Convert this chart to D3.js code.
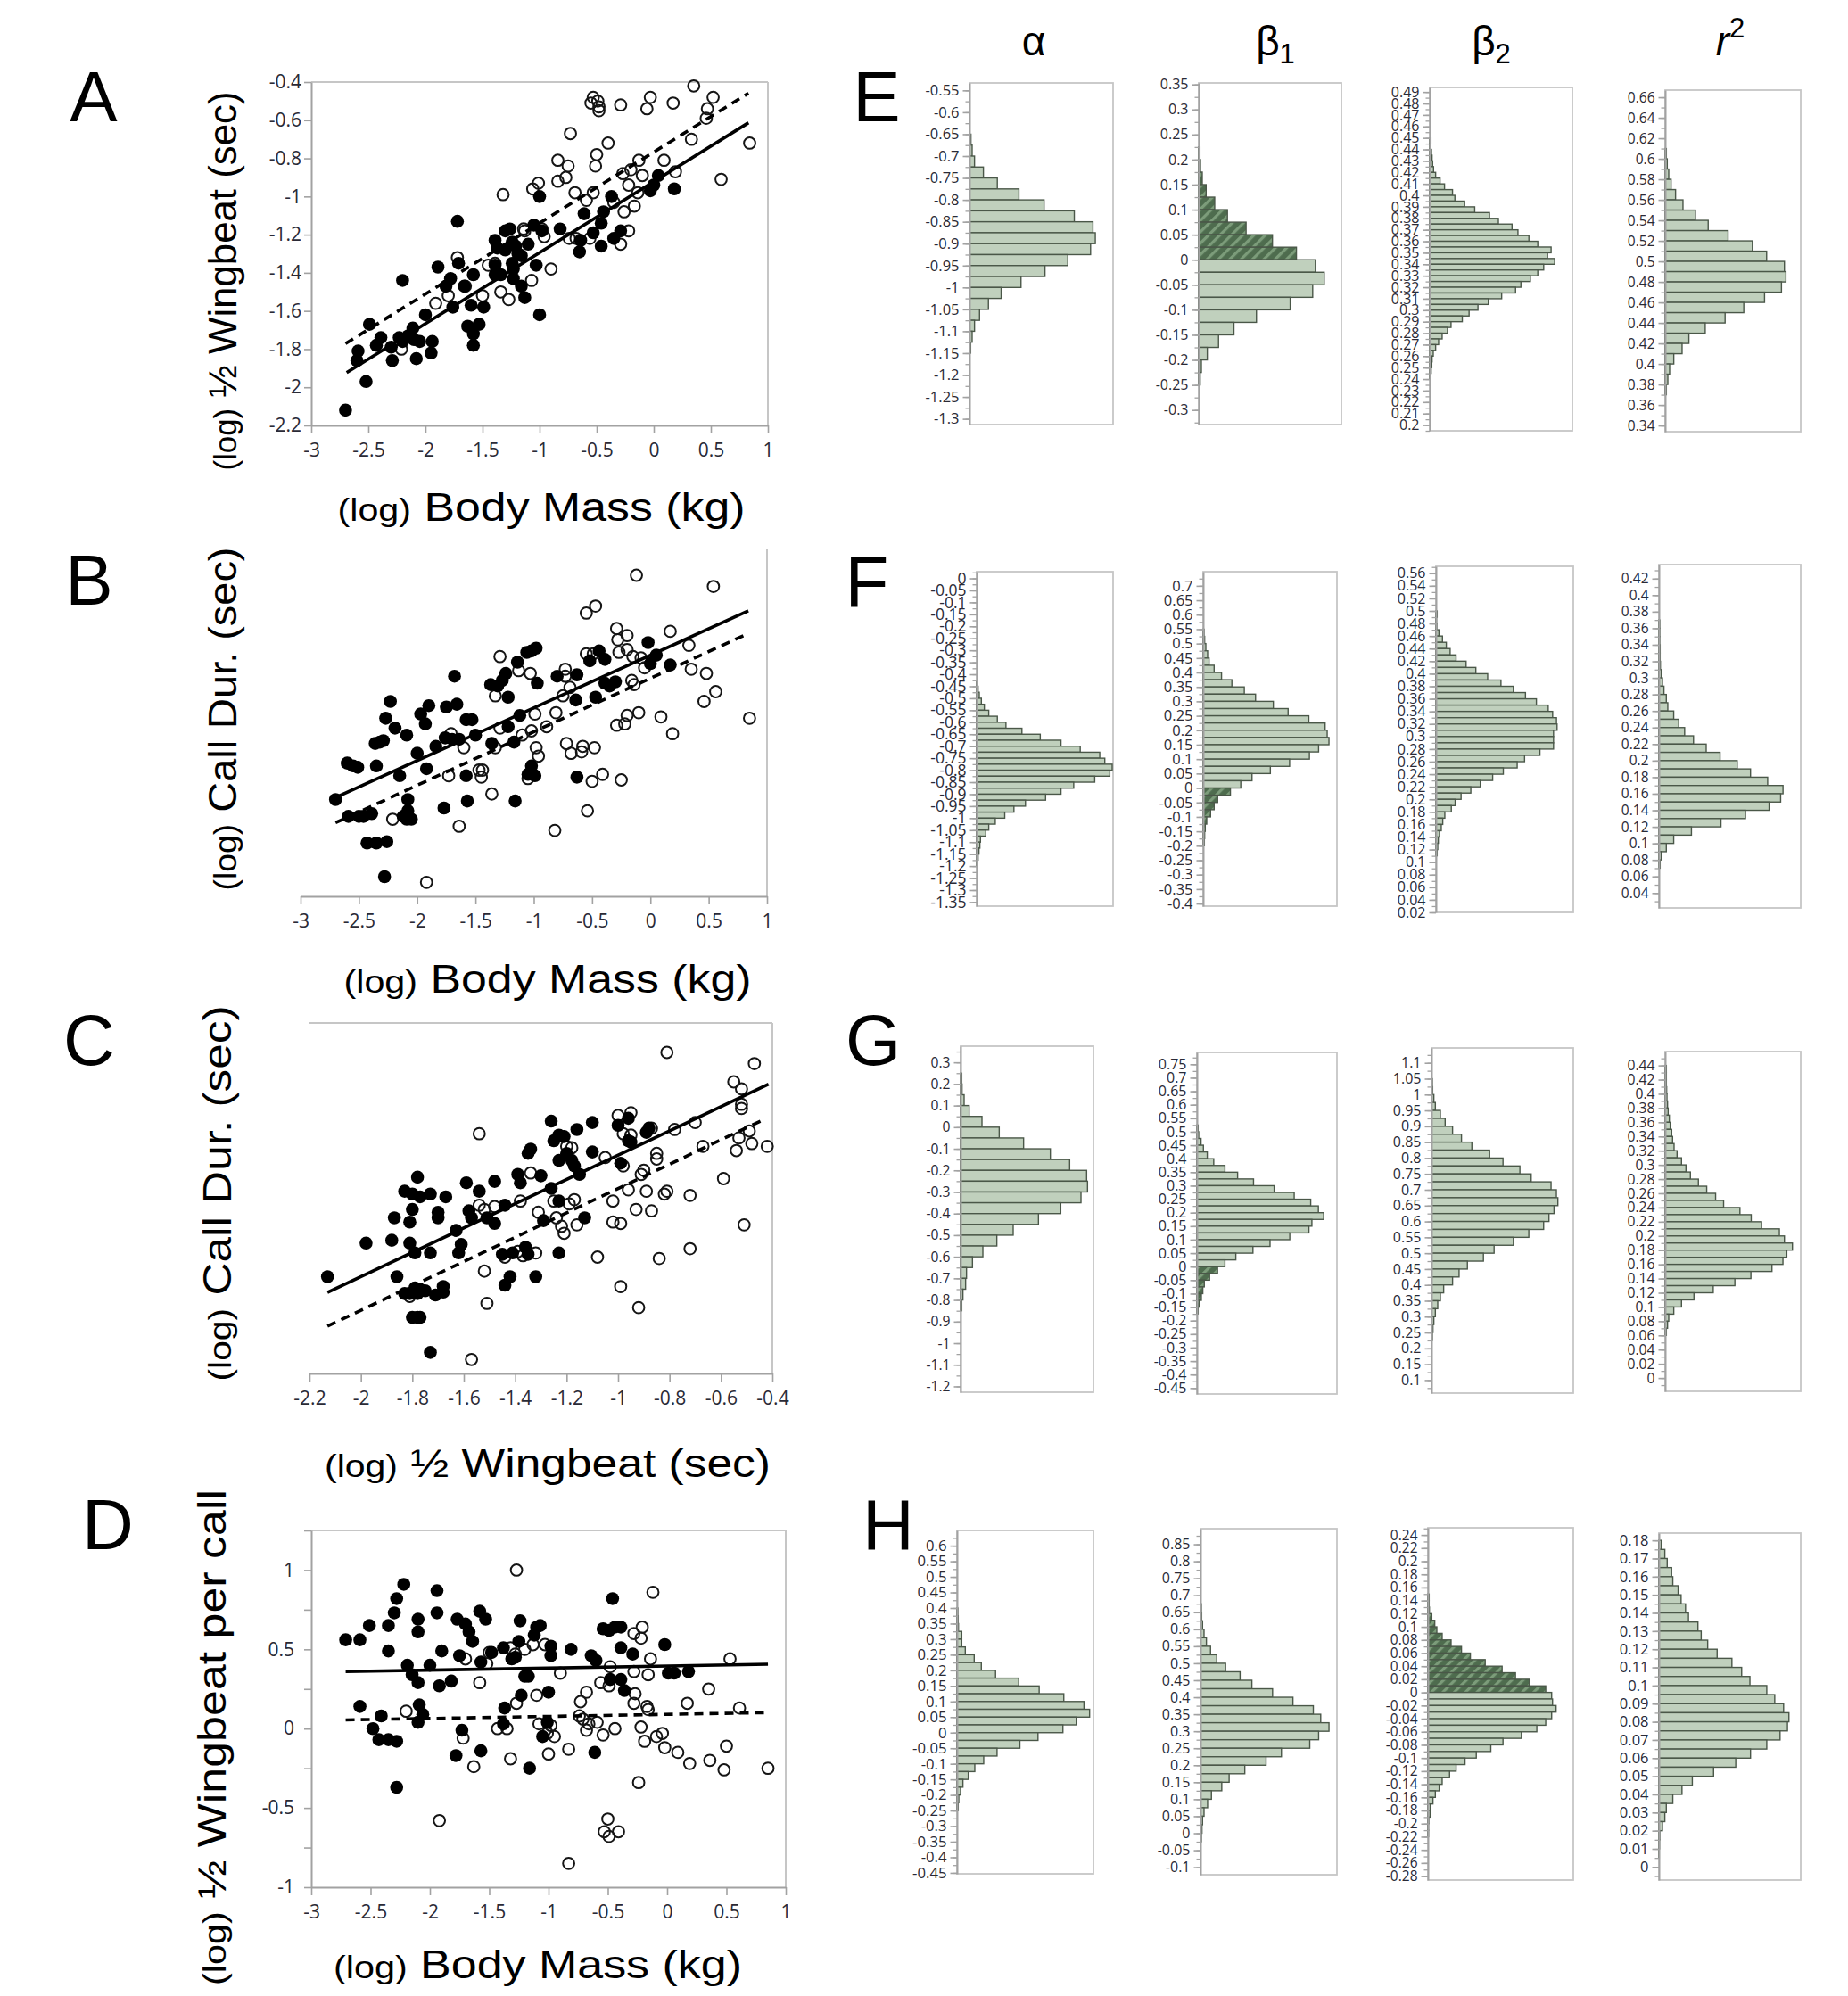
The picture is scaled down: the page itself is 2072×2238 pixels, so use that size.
<!DOCTYPE html>
<html><head><meta charset="utf-8">
<script src="https://cdn.jsdelivr.net/npm/d3@7"></script>
<style>body{margin:0;background:#fff}</style>
</head><body><svg id="c" width="2072" height="2238" xmlns="http://www.w3.org/2000/svg"></svg>
<script>
// ---------------- DATA: scatter panels (x, y) ----------------
const aOpen=[[-0.53,-0.48],[-0.55,-0.51],[-0.49,-0.50],[-0.48,-0.53],[-0.48,-0.55],[-0.29,-0.52],[-0.06,-0.54],[-0.03,-0.48],[0.17,-0.51],[0.35,-0.42],[0.52,-0.48],[0.47,-0.54],[0.46,-0.59],[0.33,-0.70],[0.84,-0.72],[-0.73,-0.67],[-0.40,-0.72],[-0.50,-0.78],[-0.51,-0.84],[-0.84,-0.81],[-0.75,-0.84],[-0.77,-0.90],[-0.84,-0.92],[-1.01,-0.93],[-1.06,-0.96],[-1.32,-0.99],[-0.69,-0.98],[-0.59,-1.02],[-0.53,-0.98],[-0.27,-0.88],[-0.20,-0.86],[-0.13,-0.81],[-0.10,-0.89],[-0.22,-0.94],[-0.14,-0.98],[-0.17,-1.05],[-0.26,-1.08],[-0.22,-1.18],[-0.29,-1.25],[0.09,-0.81],[0.19,-0.87],[0.59,-0.91],[-0.35,-1.03],[-0.56,-1.22],[-0.68,-1.22],[-0.74,-1.22],[-0.90,-1.38],[-1.07,-1.44],[-1.14,-1.17],[-1.13,-1.18],[-0.96,-1.21],[-0.98,-1.17],[-1.34,-1.50],[-1.27,-1.54],[-1.50,-1.52],[-1.45,-1.36],[-1.39,-1.35],[-1.65,-1.47],[-1.72,-1.32],[-1.80,-1.52],[-1.91,-1.56],[-2.21,-1.80]];
const aFilled=[[-2.70,-2.12],[-2.52,-1.97],[-2.59,-1.81],[-2.60,-1.86],[-2.49,-1.67],[-2.43,-1.78],[-2.39,-1.74],[-2.30,-1.79],[-2.29,-1.86],[-2.23,-1.74],[-2.20,-1.76],[-2.15,-1.73],[-2.11,-1.69],[-2.10,-1.75],[-2.08,-1.85],[-2.05,-1.76],[-1.94,-1.76],[-1.95,-1.82],[-2.00,-1.62],[-2.20,-1.44],[-1.89,-1.37],[-1.82,-1.47],[-1.78,-1.43],[-1.72,-1.13],[-1.71,-1.35],[-1.76,-1.58],[-1.66,-1.47],[-1.58,-1.41],[-1.60,-1.57],[-1.63,-1.68],[-1.58,-1.72],[-1.58,-1.78],[-1.53,-1.67],[-1.49,-1.58],[-1.39,-1.23],[-1.37,-1.27],[-1.30,-1.18],[-1.26,-1.17],[-1.24,-1.24],[-1.21,-1.26],[-1.24,-1.35],[-1.23,-1.38],[-1.16,-1.31],[-1.10,-1.25],[-1.16,-1.47],[-1.13,-1.53],[-1.03,-1.36],[-1.00,-1.62],[-1.00,-1.00],[-1.05,-1.15],[-0.98,-1.18],[-0.82,-1.17],[-0.61,-1.09],[-0.64,-1.23],[-0.65,-1.29],[-0.53,-1.19],[-0.46,-1.26],[-0.44,-1.08],[-0.46,-1.14],[-0.37,-1.00],[-0.35,-1.22],[-0.29,-1.18],[-0.03,-0.97],[0.04,-0.89],[0.18,-0.96],[0.00,-0.94],[-1.39,-1.41],[-1.34,-1.41],[-1.30,-1.28],[-1.23,-1.43],[-1.19,-1.30],[-1.39,-1.36]];
const bOpen=[[-0.12,0.04],[0.54,-0.04],[-0.55,-0.23],[-0.47,-0.18],[0.17,-0.36],[0.33,-0.46],[0.35,-0.63],[0.48,-0.66],[0.46,-0.86],[0.56,-0.79],[0.85,-0.98],[0.09,-0.97],[0.19,-1.09],[-0.10,-0.94],[-0.20,-0.96],[-0.29,-1.03],[-0.22,-1.02],[-0.29,-0.34],[-0.28,-0.42],[-0.20,-0.39],[-0.27,-0.51],[-0.20,-0.49],[-0.15,-0.54],[-0.08,-0.55],[-0.05,-0.62],[-0.16,-0.71],[-0.14,-0.74],[-0.55,-0.52],[-0.49,-0.52],[-0.73,-0.63],[-0.73,-0.68],[-0.69,-0.76],[-0.75,-0.82],[-0.81,-0.94],[-0.89,-1.04],[-0.99,-0.95],[-1.02,-1.07],[-0.98,-1.19],[-0.96,-1.25],[-1.05,-1.41],[-1.10,-1.10],[-1.29,-1.05],[-1.33,-1.19],[-1.29,-0.54],[-1.33,-0.82],[-1.13,-0.64],[-1.03,-0.66],[-1.44,-1.35],[-1.45,-1.40],[-1.36,-1.52],[-1.71,-1.09],[-1.73,-1.39],[-1.60,-1.19],[-1.64,-1.75],[-2.21,-1.70],[-1.92,-2.15],[-0.82,-1.78],[-0.54,-1.64],[-0.50,-1.43],[-0.41,-1.38],[-0.25,-1.42],[-0.48,-1.19],[-0.58,-1.18],[-0.59,-1.22],[-0.68,-1.23],[-0.72,-1.16],[-1.47,-1.35]];
const bFilled=[[-2.70,-1.56],[-2.59,-1.68],[-2.50,-1.68],[-2.46,-1.68],[-2.39,-1.66],[-2.43,-1.87],[-2.35,-1.87],[-2.26,-1.86],[-2.28,-2.11],[-2.60,-1.30],[-2.55,-1.32],[-2.51,-1.33],[-2.35,-1.32],[-2.15,-1.39],[-2.27,-0.98],[-2.23,-0.86],[-2.19,-1.05],[-2.09,-1.10],[-2.36,-1.16],[-2.32,-1.15],[-2.29,-1.14],[-2.00,-1.23],[-1.92,-1.34],[-1.97,-0.95],[-1.93,-1.02],[-1.90,-0.89],[-1.84,-1.18],[-1.75,-0.90],[-1.66,-0.88],[-1.68,-0.68],[-1.76,-1.12],[-1.77,-1.62],[-1.70,-1.13],[-1.64,-1.13],[-1.58,-0.99],[-1.53,-0.99],[-1.50,-1.10],[-1.58,-1.39],[-1.57,-1.57],[-1.37,-0.74],[-1.31,-0.75],[-1.27,-0.71],[-1.24,-0.66],[-1.22,-0.83],[-1.36,-1.16],[-1.22,-1.04],[-1.17,-1.15],[-1.12,-0.96],[-1.14,-0.58],[-1.06,-0.51],[-1.02,-0.50],[-0.98,-0.48],[-0.97,-0.73],[-1.02,-1.32],[-0.99,-1.39],[-1.05,-1.38],[-1.16,-1.57],[-0.80,-0.68],[-0.63,-0.67],[-0.64,-0.85],[-0.52,-0.57],[-0.39,-0.56],[-0.39,-0.73],[-0.44,-0.50],[-0.47,-0.83],[-0.30,-0.72],[-0.35,-0.75],[-0.02,-0.44],[0.05,-0.53],[0.00,-0.59],[0.17,-0.60],[-0.63,-1.40],[-2.12,-1.68],[-2.09,-1.70],[-2.05,-1.70],[-2.08,-1.56],[-2.08,-1.64]];
const cOpen=[[-0.81,0.04],[-0.47,-0.04],[-0.55,-0.17],[-0.52,-0.22],[-0.52,-0.33],[-0.52,-0.36],[-0.70,-0.46],[-0.78,-0.51],[-0.87,-0.50],[-0.95,-0.39],[-1.00,-0.41],[-0.98,-0.54],[-0.95,-0.55],[-0.53,-0.57],[-0.49,-0.52],[-0.48,-0.61],[-0.42,-0.63],[-0.54,-0.66],[-0.67,-0.63],[-0.85,-0.68],[-0.85,-0.72],[-1.05,-0.71],[-0.90,-0.80],[-0.91,-0.83],[-0.98,-0.77],[-0.59,-0.86],[-0.72,-0.98],[-0.81,-0.95],[-0.82,-0.97],[-0.87,-1.09],[-0.89,-0.95],[-0.93,-1.08],[-0.96,-0.94],[-1.02,-1.02],[-1.02,-1.17],[-0.99,-1.18],[-0.51,-1.19],[-0.72,-1.36],[-0.84,-1.43],[-1.08,-1.42],[-0.99,-1.63],[-0.92,-1.78],[-1.54,-0.54],[-1.54,-1.05],[-1.52,-1.08],[-1.48,-1.06],[-1.38,-1.02],[-1.34,-0.82],[-1.31,-1.10],[-1.25,-1.02],[-1.24,-1.14],[-1.22,-1.20],[-1.21,-1.25],[-1.19,-1.04],[-1.17,-1.01],[-1.16,-1.19],[-1.44,-1.42],[-1.39,-1.38],[-1.37,-1.41],[-1.32,-1.39],[-1.52,-1.52],[-1.51,-1.75],[-1.57,-2.15],[-1.81,-1.70],[-1.20,-0.63],[-1.18,-0.64]];
const cFilled=[[-2.13,-1.56],[-1.98,-1.32],[-1.87,-1.14],[-1.88,-1.30],[-1.86,-1.56],[-1.83,-0.95],[-1.80,-0.97],[-1.80,-1.08],[-1.78,-0.85],[-1.81,-1.17],[-1.81,-1.32],[-1.79,-1.39],[-1.73,-1.39],[-1.77,-0.99],[-1.73,-0.97],[-1.70,-1.10],[-1.70,-1.14],[-1.67,-0.99],[-1.83,-1.68],[-1.81,-1.68],[-1.78,-1.68],[-1.79,-1.64],[-1.77,-1.65],[-1.75,-1.66],[-1.71,-1.69],[-1.68,-1.67],[-1.68,-1.63],[-1.80,-1.85],[-1.78,-1.85],[-1.77,-1.85],[-1.73,-2.10],[-1.63,-1.23],[-1.61,-1.33],[-1.62,-1.39],[-1.59,-0.89],[-1.58,-1.09],[-1.57,-1.14],[-1.54,-0.95],[-1.51,-1.14],[-1.48,-0.88],[-1.48,-1.18],[-1.44,-1.05],[-1.45,-1.40],[-1.41,-1.39],[-1.44,-1.62],[-1.42,-1.56],[-1.39,-0.83],[-1.38,-0.89],[-1.35,-0.68],[-1.34,-0.65],[-1.36,-1.35],[-1.35,-1.40],[-1.30,-0.84],[-1.32,-1.56],[-1.29,-1.16],[-1.26,-0.93],[-1.26,-0.45],[-1.25,-0.59],[-1.23,-0.55],[-1.21,-0.56],[-1.20,-0.68],[-1.23,-0.73],[-1.23,-1.02],[-1.23,-1.39],[-1.18,-0.73],[-1.17,-0.77],[-1.16,-0.51],[-1.15,-0.83],[-1.13,-1.14],[-1.10,-0.46],[-1.10,-0.67],[-1.00,-0.48],[-0.96,-0.43],[-0.99,-0.75],[-0.96,-0.59],[-0.95,-0.60],[-0.89,-0.53],[-0.88,-0.50]];
const dOpen=[[-1.27,1.00],[-0.12,0.86],[-0.21,0.64],[-0.28,0.60],[-0.22,0.57],[0.53,0.44],[-0.14,0.44],[-0.28,0.36],[-0.16,0.34],[0.35,0.25],[0.17,0.16],[0.61,0.13],[-0.17,0.14],[-0.16,0.12],[-0.27,0.22],[-0.28,0.16],[-0.48,0.39],[-0.56,0.29],[-0.49,0.27],[-0.68,0.23],[-0.73,0.17],[-0.74,0.08],[-0.71,0.06],[-0.68,-0.01],[-0.59,0.04],[-0.54,-0.04],[-0.22,0.01],[-0.19,-0.08],[-0.09,-0.05],[-0.04,-0.03],[-0.02,-0.12],[0.09,-0.15],[0.19,-0.22],[0.36,-0.20],[0.48,-0.26],[0.50,-0.11],[0.85,-0.25],[-0.24,-0.34],[-0.53,-0.65],[-0.49,-0.68],[-0.41,-0.65],[-0.50,-0.57],[-0.83,-0.13],[-0.90,0.35],[-0.83,-0.85],[-1.00,-0.16],[-0.95,-0.05],[-1.01,-0.03],[-0.98,0.02],[-1.10,0.21],[-1.08,0.03],[-1.13,0.53],[-1.03,0.53],[-1.20,0.50],[-1.32,0.51],[-1.28,0.47],[-1.27,0.16],[-1.32,-0.19],[-1.35,0.00],[-1.43,0.00],[-1.50,0.48],[-1.52,0.41],[-1.58,0.29],[-1.63,-0.24],[-1.72,-0.06],[-1.70,0.44],[-2.20,0.11],[-1.92,-0.58],[-0.66,0.03],[-0.44,0.00]];
const dFilled=[[-2.71,0.56],[-2.59,0.56],[-2.51,0.65],[-2.59,0.14],[-2.48,0.00],[-2.43,-0.07],[-2.41,0.08],[-2.35,-0.07],[-2.28,-0.08],[-2.35,0.49],[-2.35,0.65],[-2.30,0.73],[-2.28,0.82],[-2.22,0.91],[-2.28,-0.37],[-2.19,0.40],[-2.15,0.34],[-2.10,0.69],[-2.10,0.61],[-2.10,0.29],[-2.09,0.15],[-2.10,0.04],[-2.06,0.09],[-2.00,0.40],[-1.94,0.87],[-1.94,0.73],[-1.90,0.49],[-1.92,0.27],[-1.82,0.30],[-1.77,0.69],[-1.75,0.46],[-1.70,0.66],[-1.67,0.61],[-1.64,0.55],[-1.73,-0.01],[-1.78,-0.17],[-1.58,0.74],[-1.53,0.69],[-1.57,-0.14],[-1.57,0.42],[-1.48,0.48],[-1.38,0.51],[-1.37,0.13],[-1.38,0.03],[-1.31,0.44],[-1.28,0.45],[-1.24,0.68],[-1.25,0.55],[-1.23,0.21],[-1.20,0.33],[-1.17,0.33],[-1.16,-0.25],[-1.12,0.59],[-1.10,0.64],[-1.07,0.65],[-0.98,0.52],[-0.98,0.46],[-1.00,0.23],[-1.01,0.04],[-1.05,-0.05],[-0.81,0.50],[-0.64,0.46],[-0.60,0.43],[-0.61,-0.15],[-0.54,0.63],[-0.49,0.62],[-0.46,0.82],[-0.44,0.64],[-0.39,0.64],[-0.39,0.51],[-0.39,0.31],[-0.36,0.24],[-0.48,0.31],[-0.29,0.47],[-0.02,0.53],[0.01,0.35],[0.06,0.35],[0.18,0.36]];
// regression lines: y = a + b*x over [x1, x2]
const aLines=[{a:-0.922,b:0.372,x1:-2.69,x2:0.83,dash:false},{a:-0.767,b:0.372,x1:-2.70,x2:0.83,dash:true}];
const bLines=[{a:-0.530,b:0.376,x1:-2.72,x2:0.84,dash:false},{a:-0.695,b:0.3815,x1:-2.70,x2:0.84,dash:true}];
const cLines=[{a:0.173,b:0.866,x1:-2.13,x2:-0.415,dash:false},{a:-0.063,b:0.868,x1:-2.13,x2:-0.43,dash:true}];
const dLines=[{a:0.395,b:0.0129,x1:-2.71,x2:0.85,dash:false},{a:0.090,b:0.0129,x1:-2.71,x2:0.85,dash:true}];
// scatter tick values
const xTicksMass=[-3,-2.5,-2,-1.5,-1,-0.5,0,0.5,1];
const xTicksWing=[-2.2,-2,-1.8,-1.6,-1.4,-1.2,-1,-0.8,-0.6,-0.4];
const yTicksA=[-2.2,-2,-1.8,-1.6,-1.4,-1.2,-1,-0.8,-0.6,-0.4];
const yTicksCall=[-2.25,-2,-1.75,-1.5,-1.25,-1,-0.75,-0.5,-0.25,0,0.25];
const yLabelsCall=[-2,-1.5,-1,-0.5,0];
const yTicksD=[-1,-0.75,-0.5,-0.25,0,0.25,0.5,0.75,1,1.25];
const yLabelsD=[-1,-0.5,0,0.5,1];

// ---------------- DATA: bootstrap histograms (bin start from top, bin width, relative counts) ----------------
const hist_E_alpha={start:-0.65,step:0.025,hi:null,counts:[5,9,17,47,94,167,252,354,417,425,409,332,255,174,107,64,34,17,9,4]};
const hist_E_beta1={start:0.225,step:0.025,hi:'pos',counts:[4,6,12,25,54,97,160,249,330,394,424,385,309,195,119,67,29,9,5]};
const hist_E_beta2={start:0.45,step:0.005,hi:null,counts:[4,3,6,8,10,13,20,35,50,77,85,118,152,202,232,278,298,335,365,410,398,422,385,365,340,308,290,243,198,163,133,110,72,60,42,30,20,12,8,7,5,3]};
const hist_E_r2={start:0.61,step:0.01,hi:null,counts:[4,7,12,20,35,60,102,145,212,294,342,402,407,392,335,265,202,135,80,57,29,15,9,4]};
const hist_F_alpha={start:-0.425,step:0.025,hi:null,counts:[3,5,9,16,26,41,70,99,153,215,285,350,416,433,458,450,399,328,285,233,165,126,95,63,41,31,13,11,8,5,3]};
const hist_F_beta1={start:0.55,step:0.025,hi:'neg',counts:[3,5,9,15,20,37,62,97,139,177,237,287,357,412,419,425,390,359,292,227,165,127,92,49,37,25,12,7,5,4]};
const hist_F_beta2={start:0.5,step:0.01,hi:null,counts:[4,2,3,10,22,35,48,68,102,135,175,220,262,303,340,380,395,408,410,398,398,398,352,300,275,228,192,150,118,85,65,52,30,23,18,12,8,6,4]};
const hist_F_r2={start:0.37,step:0.01,hi:null,counts:[3,3,3,4,4,5,8,12,17,25,30,50,67,87,117,160,207,265,310,368,420,412,373,293,210,110,50,25,8,4]};
const hist_G_alpha={start:0.25,step:0.05,hi:null,counts:[4,5,12,29,72,130,212,302,367,424,427,405,337,262,177,122,75,40,20,17,8,4]};
const hist_G_beta1={start:0.525,step:0.025,hi:'neg',counts:[4,6,14,22,35,57,95,138,192,262,330,386,412,430,390,380,315,248,190,132,95,70,43,25,20,15,7,4]};
const hist_G_beta2={start:1.05,step:0.025,hi:null,counts:[3,4,8,13,30,46,71,101,136,196,241,298,336,403,421,426,413,396,378,328,276,211,175,121,93,71,41,30,21,13,8,5,3]};
const hist_G_r2={start:0.44,step:0.01,hi:null,counts:[4,4,4,5,6,8,10,14,17,22,25,30,40,55,70,85,112,140,170,197,252,290,325,385,402,429,410,397,360,289,235,162,97,55,29,12,8,4]};
const hist_H_alpha={start:0.4,step:0.025,hi:null,counts:[3,4,5,16,16,28,58,82,130,208,277,360,428,447,402,357,273,212,135,90,60,38,20,12,6,4]};
const hist_H_beta1={start:0.675,step:0.025,hi:null,counts:[3,4,7,12,20,34,55,85,134,174,244,313,382,407,435,400,370,274,222,150,97,72,37,24,12,7,5,3]};
const hist_H_beta2={start:0.15,step:0.01,hi:'pos',counts:[4,4,5,13,23,30,48,78,113,143,193,250,295,342,397,417,420,432,417,397,367,315,253,212,163,125,95,73,48,38,25,17,8,7,3,2,2]};
const hist_H_r2={start:0.18,step:0.005,hi:null,counts:[8,20,28,43,47,65,75,90,100,132,143,165,197,247,280,308,365,392,422,440,435,410,365,310,260,185,113,78,47,25,20,12,3,2,1]};
// histogram axis labels: [top label, bottom label, label step]
const ticks_E=[[-0.55,-1.3,0.05],[0.35,-0.3,0.05],[0.49,0.2,0.01],[0.66,0.34,0.02]];
const ticks_F=[[0,-1.35,0.05],[0.7,-0.4,0.05],[0.56,0.02,0.02],[0.42,0.04,0.02]];
const ticks_G=[[0.3,-1.2,0.1],[0.75,-0.45,0.05],[1.1,0.1,0.05],[0.44,0,0.02]];
const ticks_H=[[0.6,-0.45,0.05],[0.85,-0.1,0.05],[0.24,-0.28,0.02],[0.18,0,0.01]];
const columnHeads=['α','β1','β2','r2'];
const rowLetters=['E','F','G','H'];

// ---------------- RENDER ----------------
const svg=d3.select('#c');
const AXIS='#a2a2a2', FRAME='#c6c6c6', TXT='#2a2a36';
const TICKFONT="'Open Sans','Noto Sans',sans-serif", LABFONT="'Liberation Sans',Arial,sans-serif";
const fmt=v=>String(Math.round(v*1000)/1000);
const near=(a,b)=>Math.abs(a-b)<1e-6;

const defs=svg.append('defs');
const pat=defs.append('pattern').attr('id','hatch').attr('patternUnits','userSpaceOnUse')
  .attr('width',9).attr('height',9).attr('patternTransform','rotate(45)');
pat.append('rect').attr('width',9).attr('height',9).attr('fill','#4e6c4e');
pat.append('rect').attr('x',0).attr('width',3.2).attr('height',9).attr('fill','#7c9c7a');

function styleAxis(g,fs){
  g.attr('font-family',TICKFONT).attr('font-size',fs);
  g.select('.domain').attr('stroke',AXIS).attr('stroke-width',2);
  g.selectAll('.tick line').attr('stroke',AXIS).attr('stroke-width',1.6);
  g.selectAll('.tick text').attr('fill',TXT);
}

function title(parent,xy,rot,len,main){
  const t=parent.append('text').attr('text-anchor','middle').attr('font-family',LABFONT).attr('fill','#000')
    .attr('transform',`translate(${xy[0]},${xy[1]})`+(rot?' rotate(-90)':''))
    .attr('textLength',len).attr('lengthAdjust','spacingAndGlyphs');
  t.append('tspan').attr('font-size',35).text('(log)');
  t.append('tspan').attr('font-size',44).text(' '+main);
}

function scatterPanel(P,filled,open,lines){
  const x=d3.scaleLinear().domain(P.xd).range([P.l,P.r]);
  const y=d3.scaleLinear().domain(P.yd).range([P.b,P.t]);
  const g=svg.append('g');
  g.append('line').attr('x1',P.r).attr('x2',P.r).attr('y1',P.rt).attr('y2',P.b).attr('stroke',FRAME).attr('stroke-width',2);
  if(P.top) g.append('line').attr('x1',P.l).attr('x2',P.r).attr('y1',P.t).attr('y2',P.t).attr('stroke',FRAME).attr('stroke-width',2);
  const xa=g.append('g').attr('transform',`translate(0,${P.b})`)
    .call(d3.axisBottom(x).tickValues(P.xt).tickSize(9).tickSizeOuter(0).tickPadding(11).tickFormat(fmt));
  styleAxis(xa,21);
  const ya=g.append('g').attr('transform',`translate(${P.l},0)`)
    .call(d3.axisLeft(y).tickValues(P.yt).tickSize(8).tickSizeOuter(0).tickPadding(P.pad)
      .tickFormat(v=>P.yl.some(u=>near(u,v))?fmt(v):''));
  styleAxis(ya,21);
  if(P.clip){
    defs.append('clipPath').attr('id',P.clip.id).append('rect').attr('x',P.clip.x).attr('y',0).attr('width',3000).attr('height',3000);
    ya.attr('clip-path',`url(#${P.clip.id})`);
  }
  g.append('g').selectAll('circle').data(open).join('circle')
    .attr('cx',d=>x(d[0])).attr('cy',d=>y(d[1])).attr('r',6.4)
    .attr('fill','none').attr('stroke','#151515').attr('stroke-width',2);
  g.append('g').selectAll('circle').data(filled).join('circle')
    .attr('cx',d=>x(d[0])).attr('cy',d=>y(d[1])).attr('r',7.3).attr('fill','#000');
  g.append('g').selectAll('line').data(lines).join('line')
    .attr('x1',d=>x(d.x1)).attr('x2',d=>x(d.x2))
    .attr('y1',d=>y(d.a+d.b*d.x1)).attr('y2',d=>y(d.a+d.b*d.x2))
    .attr('stroke','#000').attr('stroke-width',3.6)
    .attr('stroke-dasharray',d=>d.dash?'10,7':null);
  title(svg,P.xlab,false,P.xlen,P.xtitle);
  title(svg,P.ylab,true,P.ylen,P.ytitle);
  svg.append('text').attr('x',P.letter[0]).attr('y',P.letter[1]).attr('text-anchor','middle')
    .attr('font-family',LABFONT).attr('font-size',80).attr('fill','#000').text(P.name);
}

scatterPanel({name:'A',l:349,r:861,t:92,b:477,rt:92,top:true,xd:[-3,1],yd:[-2.2,-0.4],xt:xTicksMass,yt:yTicksA,yl:yTicksA,pad:3,
  xlab:[607,584],xlen:457,xtitle:'Body Mass (kg)',ylab:[265,315],ylen:425,ytitle:'½ Wingbeat (sec)',letter:[105,136]},aFilled,aOpen,aLines);
scatterPanel({name:'B',l:337,r:860,t:612,b:1005,rt:616,top:false,xd:[-3,1],yd:[-2.25,0.25],xt:xTicksMass,yt:yTicksCall,yl:yLabelsCall,pad:11,
  clip:{id:'clipB',x:293},xlab:[614,1113],xlen:457,xtitle:'Body Mass (kg)',ylab:[265,806],ylen:385,ytitle:'Call Dur. (sec)',letter:[100,678]},bFilled,bOpen,bLines);
scatterPanel({name:'C',l:347,r:866,t:1147,b:1540,rt:1147,top:true,xd:[-2.2,-0.4],yd:[-2.25,0.25],xt:xTicksWing,yt:yTicksCall,yl:yLabelsCall,pad:11,
  clip:{id:'clipC',x:303},xlab:[614,1656],xlen:500,xtitle:'½ Wingbeat (sec)',ylab:[259,1338],ylen:421,ytitle:'Call Dur. (sec)',letter:[100,1194]},cFilled,cOpen,cLines);
scatterPanel({name:'D',l:349,r:881,t:1716,b:2116,rt:1716,top:true,xd:[-3,1],yd:[-1,1.25],xt:xTicksMass,yt:yTicksD,yl:yLabelsD,pad:11,
  xlab:[603,2218],xlen:458,xtitle:'Body Mass (kg)',ylab:[253,1948],ylen:556,ytitle:'½ Wingbeat per call',letter:[121,1737]},dFilled,dOpen,dLines);

// histogram layouts
const HL=[
 [{l:1087,r:1248,t:93,b:476,yd:[-1.313,-0.533],xmax:485,fs:16.5},{l:1344,r:1504,t:93,b:476,yd:[-0.329,0.353],xmax:482,fs:16},
  {l:1603,r:1763,t:98,b:483,yd:[0.195,0.494],xmax:482,fs:16},{l:1867,r:2019,t:101,b:484,yd:[0.334,0.667],xmax:457,fs:15.5}],
 [{l:1095,r:1248,t:641,b:1016,yd:[-1.367,0.028],xmax:461,fs:17.5},{l:1349,r:1499,t:641,b:1016,yd:[-0.409,0.749],xmax:452,fs:16.5},
  {l:1610,r:1764,t:635,b:1023,yd:[0.02,0.571],xmax:465,fs:16},{l:1860,r:2019,t:633,b:1018,yd:[0.022,0.437],xmax:480,fs:15.5}],
 [{l:1077,r:1226,t:1173,b:1561,yd:[-1.227,0.375],xmax:447,fs:15.7},{l:1342,r:1499,t:1180,b:1563,yd:[-0.472,0.794],xmax:475,fs:16},
  {l:1605,r:1764,t:1175,b:1562,yd:[0.059,1.147],xmax:478,fs:16},{l:1867,r:2019,t:1179,b:1560,yd:[-0.0187,0.4596],xmax:457,fs:15.7}],
 [{l:1073,r:1226,t:1716,b:2101,yd:[-0.453,0.649],xmax:460,fs:16.7},{l:1346,r:1499,t:1714,b:2102,yd:[-0.122,0.896],xmax:462,fs:16},
  {l:1601,r:1764,t:1713,b:2108,yd:[-0.286,0.251],xmax:490,fs:15.5},{l:1860,r:2019,t:1719,b:2108,yd:[-0.0072,0.184],xmax:480,fs:16.5}]
];
const HD=[[hist_E_alpha,hist_E_beta1,hist_E_beta2,hist_E_r2],[hist_F_alpha,hist_F_beta1,hist_F_beta2,hist_F_r2],
          [hist_G_alpha,hist_G_beta1,hist_G_beta2,hist_G_r2],[hist_H_alpha,hist_H_beta1,hist_H_beta2,hist_H_r2]];
const HT=[ticks_E,ticks_F,ticks_G,ticks_H];

function histPanel(L,D,T){
  const y=d3.scaleLinear().domain(L.yd).range([L.b,L.t]);
  const x=d3.scaleLinear().domain([0,L.xmax]).range([L.l,L.r]);
  const g=svg.append('g');
  g.append('rect').attr('x',L.l).attr('y',L.t).attr('width',L.r-L.l).attr('height',L.b-L.t)
    .attr('fill','none').attr('stroke',FRAME).attr('stroke-width',1.8);
  const bins=D.counts.map((c,i)=>{const top=D.start-i*D.step, bot=top-D.step;
    const dark=(D.hi==='pos'&&bot>=-1e-9)||(D.hi==='neg'&&top<=1e-9);
    return {top,bot,c,dark};});
  g.append('g').selectAll('rect').data(bins).join('rect')
    .attr('x',L.l).attr('y',d=>y(d.top)).attr('width',d=>x(d.c)-L.l).attr('height',d=>y(d.bot)-y(d.top))
    .attr('fill',d=>d.dark?'url(#hatch)':'#c0d0bd').attr('stroke','#4a5748').attr('stroke-width',1.4);
  const n=Math.round((T[0]-T[1])/T[2]);
  const major=d3.range(n+1).map(i=>Math.round((T[0]-i*T[2])*1e6)/1e6);
  const half=T[2]/2, minor=[];
  for(let k=-200;k<=400;k++){const v=T[1]+k*half; if(v>=L.yd[0]-1e-9&&v<=L.yd[1]+1e-9) minor.push(v);}
  const mi=g.append('g').attr('transform',`translate(${L.l},0)`)
    .call(d3.axisLeft(y).tickValues(minor).tickSize(4.5).tickSizeOuter(0).tickFormat(''));
  styleAxis(mi,L.fs);
  mi.selectAll('.tick line').attr('stroke-width',1.3);
  const ma=g.append('g').attr('transform',`translate(${L.l},0)`)
    .call(d3.axisLeft(y).tickValues(major).tickSize(7.5).tickSizeOuter(0).tickPadding(4).tickFormat(fmt));
  styleAxis(ma,L.fs);
  ma.select('.domain').remove();
}
HL.forEach((row,r)=>row.forEach((L,c)=>histPanel(L,HD[r][c],HT[r][c])));

// column headers
const headX=[1159,1430,1672,1940];
columnHeads.forEach((h,i)=>{
  const t=svg.append('text').attr('x',headX[i]).attr('y',62).attr('text-anchor','middle')
    .attr('font-family',LABFONT).attr('font-size',46).attr('fill','#000');
  if(h==='α'){t.text('α');}
  else if(h[0]==='β'){t.append('tspan').text('β');t.append('tspan').attr('font-size',31).attr('dy',9).text(h[1]);}
  else {t.append('tspan').attr('font-style','italic').text('r');t.append('tspan').attr('font-size',31).attr('dy',-20).text(h[1]);}
});
// row letters
const rowLetterPos=[[983,136],[972,680],[979,1194],[996,1737]];
rowLetters.forEach((s,i)=>svg.append('text').attr('x',rowLetterPos[i][0]).attr('y',rowLetterPos[i][1])
  .attr('text-anchor','middle').attr('font-family',LABFONT).attr('font-size',80).attr('fill','#000').text(s));
</script></body></html>
